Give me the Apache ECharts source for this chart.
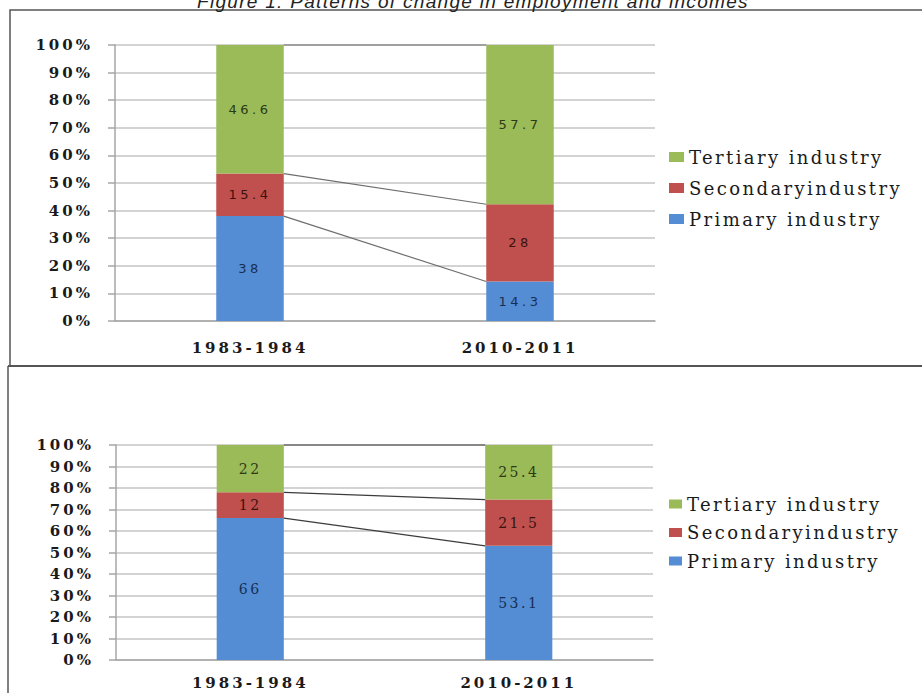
<!DOCTYPE html>
<html>
<head>
<meta charset="utf-8">
<script src="https://cdn.jsdelivr.net/npm/echarts@6/dist/echarts.min.js"></script>
<style>
  html, body { margin: 0; padding: 0; background: #fff; }
  #chart { width: 922px; height: 693px; }
  /* the scanned figure has very wide-set lettering */
  #chart text[style*="15px"] { letter-spacing: 3px; }
  #chart text[style*="18px"] { letter-spacing: 2.4px; }
  #chart text[style*="13px"] { letter-spacing: 3.5px; }
  #chart text[style*="14px"] { letter-spacing: 2.5px; }
  #chart text[style*="19px"] { letter-spacing: 1.3px; }
</style>
</head>
<body>
<div id="chart"></div>
<script>
var periods = ['1983-1984', '2010-2011'];
var seriesNames = ['Primary industry', 'Secondaryindustry', 'Tertiary industry'];
var legendOrder = ['Tertiary industry', 'Secondaryindustry', 'Primary industry'];

// top panel: employment shares
var empPrimary = [38, 14.3];
var empSecondary = [15.4, 28];
var empTertiary = [46.6, 57.7];

// bottom panel: income shares
var incPrimary = [66, 53.1];
var incSecondary = [12, 21.5];
var incTertiary = [22, 25.4];

var colors = ['#548DD4', '#C0504D', '#9BBB59'];
var labelColors = ['#172f55', '#3a1211', '#2c3a16'];
var barRatio = 0.25;

var chart = echarts.init(document.getElementById('chart'), null, { renderer: 'svg' });

// series lines between the stacks, one per boundary
function boundaries(p, s, t) {
    return [
        [0, p[0], 1, p[1]],
        [0, p[0] + s[0], 1, p[1] + s[1]],
        [0, p[0] + s[0] + t[0], 1, p[1] + s[1] + t[1]]
    ];
}

function connector(idx, data, color) {
    return {
        type: 'custom',
        xAxisIndex: idx,
        yAxisIndex: idx,
        z: 5,
        silent: true,
        encode: { x: [0, 2], y: [1, 3] },
        data: data,
        renderItem: function (params, api) {
            var a = api.coord([api.value(0), api.value(1)]);
            var b = api.coord([api.value(2), api.value(3)]);
            var half = api.size([1, 0])[0] * barRatio / 2;
            return {
                type: 'line',
                shape: { x1: a[0] + half, y1: a[1], x2: b[0] - half, y2: b[1] },
                style: { stroke: color, lineWidth: 1.2 }
            };
        }
    };
}

function bars(idx, vals, labelFont, labelSize) {
    return vals.map(function (v, i) {
        return {
            name: seriesNames[i],
            type: 'bar',
            stack: 'share' + idx,
            xAxisIndex: idx,
            yAxisIndex: idx,
            barWidth: (barRatio * 100) + '%',
            itemStyle: { color: colors[i] },
            label: {
                show: true,
                position: 'inside',
                color: labelColors[i],
                fontFamily: labelFont,
                fontSize: labelSize
            },
            data: v
        };
    });
}

function xAxis(idx, margin) {
    return {
        type: 'category',
        gridIndex: idx,
        data: periods,
        axisLine: { show: true, lineStyle: { color: '#a6a6a6', width: 1.5 } },
        axisTick: { show: false },
        axisLabel: {
            margin: margin,
            color: '#1a1a1a',
            fontFamily: 'DejaVu Serif',
            fontWeight: 'bold',
            fontSize: 15
        }
    };
}

function yAxis(idx) {
    return {
        type: 'value',
        gridIndex: idx,
        min: 0,
        max: 100,
        interval: 10,
        axisLine: { show: true, lineStyle: { color: '#a6a6a6', width: 1.5 } },
        axisTick: { show: true, length: 7, lineStyle: { color: '#a6a6a6', width: 1.5 } },
        splitLine: { lineStyle: { color: '#c4c4c4', width: 1.5 } },
        axisLabel: {
            formatter: '{value}%',
            margin: 22,
            color: '#1a1a1a',
            fontFamily: 'DejaVu Serif',
            fontWeight: 'bold',
            fontSize: 15
        }
    };
}

function legend(top, gap, w, h) {
    return {
        data: legendOrder,
        orient: 'vertical',
        left: 669,
        top: top,
        padding: 0,
        itemGap: gap,
        itemWidth: w,
        itemHeight: h,
        icon: 'rect',
        selectedMode: false,
        textStyle: { fontFamily: 'DejaVu Serif', fontSize: 18, color: '#1a1a1a' }
    };
}

var option = {
    backgroundColor: '#fff',
    animation: false,
    title: {
        text: 'Figure 1: Patterns of change in employment and incomes',
        left: 197,
        top: -8,
        padding: 0,
        textStyle: {
            fontFamily: 'Liberation Sans',
            fontStyle: 'italic',
            fontWeight: 'normal',
            fontSize: 19,
            color: '#222'
        }
    },
    legend: [legend(148, 13, 15, 10), legend(495, 10.5, 13, 9)],
    grid: [
        { left: 115, right: 267, top: 45, bottom: 372 },
        { left: 116, right: 269, top: 445, bottom: 33 }
    ],
    xAxis: [xAxis(0, 19), xAxis(1, 15)],
    yAxis: [yAxis(0), yAxis(1)],
    series: []
        .concat(bars(0, [empPrimary, empSecondary, empTertiary], 'DejaVu Sans', 13))
        .concat(bars(1, [incPrimary, incSecondary, incTertiary], 'DejaVu Serif', 14))
        .concat([
            connector(0, boundaries(empPrimary, empSecondary, empTertiary), '#6e6e6e'),
            connector(1, boundaries(incPrimary, incSecondary, incTertiary), '#3c3c3c')
        ]),
    graphic: [
        { type: 'polyline', silent: true, shape: { points: [[922, 10], [10, 10], [10, 367]] },
          style: { stroke: '#555', lineWidth: 1.5, fill: null } },
        { type: 'line', silent: true, shape: { x1: 8, y1: 366, x2: 922, y2: 366 },
          style: { stroke: '#555', lineWidth: 2 } },
        { type: 'line', silent: true, shape: { x1: 8, y1: 366, x2: 8, y2: 693 },
          style: { stroke: '#555', lineWidth: 1.5 } }
    ]
};

chart.setOption(option);
</script>
</body>
</html>
